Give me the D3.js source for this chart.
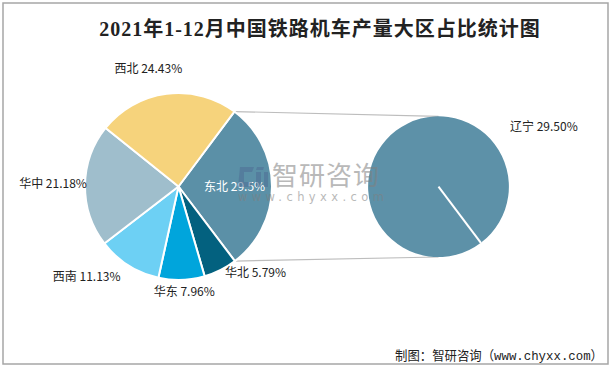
<!DOCTYPE html>
<html><head><meta charset="utf-8">
<script src="https://cdn.jsdelivr.net/npm/d3@7"></script>
<style>html,body{margin:0;padding:0;background:#fff}svg{display:block}</style>
</head><body>
<script>
// ---- data ----
const categories = ["东北", "华北", "华东", "西南", "华中", "西北"];
const shares = [29.5, 5.79, 7.96, 11.13, 21.18, 24.43];
const shareLabels = ["29.5%", "5.79%", "7.96%", "11.13%", "21.18%", "24.43%"];
const detailCategories = ["辽宁"];
const detailShares = [29.5];
const detailLabels = ["29.50%"];
const title = "2021年1-12月中国铁路机车产量大区占比统计图";
const source = "制图：智研咨询（www.chyxx.com）";

// ---- layout / style ----
const W = 616, H = 369;
const colors = ["#5b90a7", "#03617f", "#00a5dc", "#6dd0f4", "#9fbecc", "#f6d37c"];
const detailColor = "#5d91a8";
const c1 = [178.5, 186.5], R1 = 93.5;
const c2 = [438.5, 186.7], R2 = 70.3;
const startDeg = 36.7;
const labelNudge = [[0,0],[27,-13],[2,-6],[-32,-3.5],[-14,-1.5],[-16,-7]];
const fontCJK = "'Noto Sans CJK SC','Noto Sans',sans-serif";

const svg = d3.select("body").append("svg").attr("width", W).attr("height", H);
svg.append("rect").attr("x", 3).attr("y", 3).attr("width", 605).attr("height", 361)
  .attr("fill", "#fff").attr("stroke", "#a6a6a6").attr("stroke-width", 1.5);

svg.append("text").attr("x", 320).attr("y", 36).attr("text-anchor", "middle")
  .attr("font-family", "'Liberation Serif','Noto Sans CJK SC',serif").attr("font-weight", "bold")
  .attr("font-size", 20).attr("letter-spacing", 1).attr("fill", "#222").text(title);

const a0 = startDeg * Math.PI / 180;
const pie = d3.pie().sort(null).startAngle(a0).endAngle(a0 + 2 * Math.PI);
const arcs = pie(shares);
const arc1 = d3.arc().innerRadius(0).outerRadius(R1);

// connector lines
const pTop = d3.pointRadial(arcs[0].startAngle, R1);
const pBot = d3.pointRadial(arcs[0].endAngle, R1);
const lines = svg.append("g").attr("stroke", "#bdbdbd").attr("stroke-width", 1.2);
lines.append("line").attr("x1", c1[0] + pTop[0]).attr("y1", c1[1] + pTop[1])
  .attr("x2", c2[0]).attr("y2", c2[1] - R2);
lines.append("line").attr("x1", c1[0] + pBot[0]).attr("y1", c1[1] + pBot[1])
  .attr("x2", c2[0]).attr("y2", c2[1] + R2);

const g1 = svg.append("g").attr("transform", `translate(${c1})`);
g1.selectAll("path").data(arcs).join("path")
  .attr("d", arc1).attr("fill", (d, i) => colors[i])
  .attr("stroke", "#fff").attr("stroke-width", 2).attr("stroke-linejoin", "round");

// second pie
const g2 = svg.append("g").attr("transform", `translate(${c2})`);
const detailStart = arcs[0].endAngle;
const pie2 = d3.pie().sort(null).startAngle(detailStart).endAngle(detailStart + 2 * Math.PI);
const arcs2 = pie2(detailShares);
g2.selectAll("path").data(arcs2).join("path")
  .attr("d", d3.arc().innerRadius(0).outerRadius(R2)).attr("fill", detailColor);
const pe = d3.pointRadial(detailStart, R2);
g2.append("line").attr("x1", 0).attr("y1", 0).attr("x2", pe[0]).attr("y2", pe[1])
  .attr("stroke", "#fff").attr("stroke-width", 2);

// watermark
const wm = svg.append("g").attr("opacity", 0.55);
wm.append("path").attr("fill", "#4f6f95")
  .attr("d", "M240,167 h14 l-2,5 h-8 v10 h8 l-1,5 h-13 z M256,172 h5 v15 h-5 z M257,167 h7 l-1,3 h-7 z M264,172 h4 v15 h-4 z");
wm.append("text").attr("x", 272).attr("y", 185).attr("font-family", fontCJK)
  .attr("font-size", 26).attr("fill", "#808080").attr("letter-spacing", 1).text("智研咨询");
wm.append("text").attr("x", 238).attr("y", 201).attr("font-family", "'DejaVu Sans',sans-serif")
  .attr("font-size", 11.5).attr("fill", "#808080").attr("letter-spacing", 4.4).text("www.chyxx.com");

// labels
const labelR = d3.arc().innerRadius(R1 + 18).outerRadius(R1 + 18);
arcs.forEach((d, i) => {
  let x, y, fill = "#222";
  if (i === 0) {
    const c = d3.arc().innerRadius(0).outerRadius(R1 * 1.2).centroid(d);
    x = c[0]; y = c[1]; fill = "#fff";
  } else {
    const c = labelR.centroid(d);
    x = c[0] + labelNudge[i][0]; y = c[1] + labelNudge[i][1];
  }
  g1.append("text").attr("x", x).attr("y", y).attr("dy", "0.35em")
    .attr("text-anchor", "middle").attr("font-family", fontCJK).attr("font-size", 12)
    .attr("fill", fill).text(categories[i] + " " + shareLabels[i]);
});
svg.append("text").attr("x", 510).attr("y", 127).attr("dy", "0.35em")
  .attr("font-family", fontCJK).attr("font-size", 12).attr("fill", "#222")
  .text(detailCategories[0] + " " + detailLabels[0]);

svg.append("text").attr("x", 603).attr("y", 360).attr("text-anchor", "end")
  .attr("font-family", "'Liberation Mono','Noto Sans CJK SC',monospace").attr("font-size", 13)
  .attr("textLength", 208).attr("lengthAdjust", "spacingAndGlyphs").attr("fill", "#222").text(source);
</script>
</body></html>
